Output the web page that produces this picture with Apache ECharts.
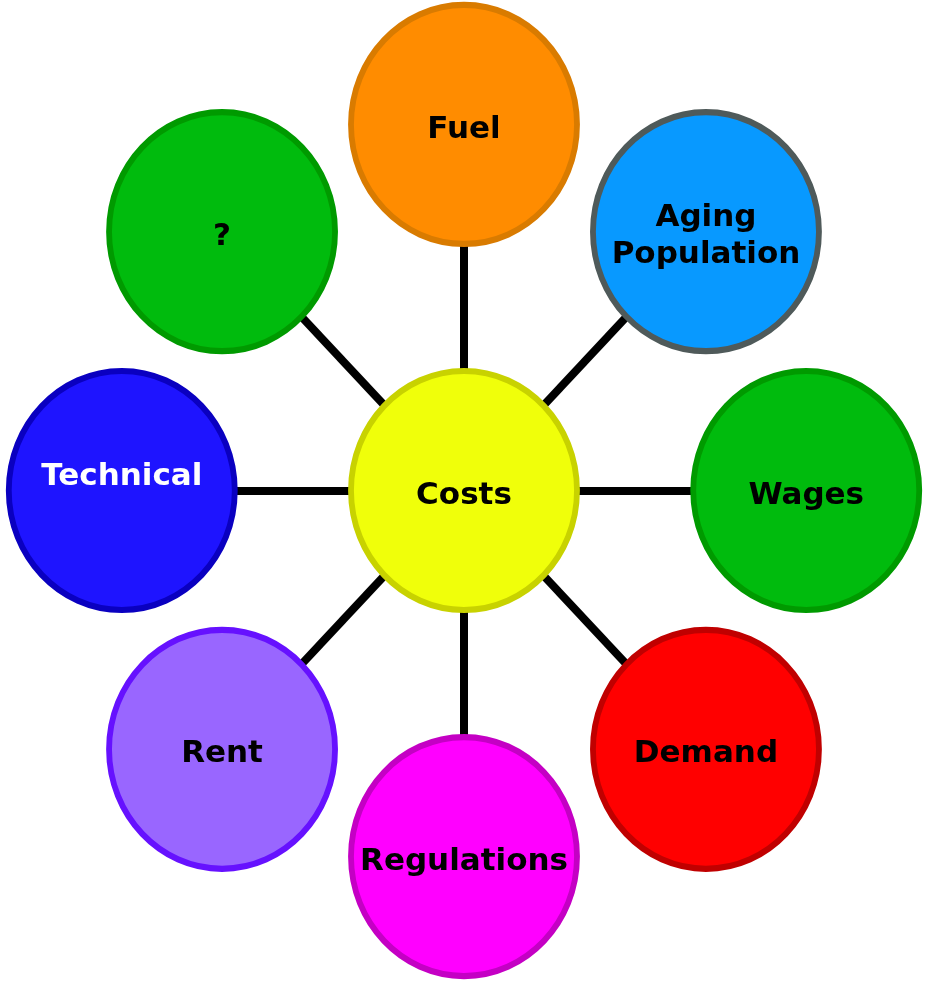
<!DOCTYPE html>
<html lang="en">
<head>
    <meta charset="UTF-8">
    <title>Costs</title>
    <script src="https://cdn.jsdelivr.net/npm/echarts@6/dist/echarts.min.js"></script>
    <style>
        html, body {
            margin: 0;
            height: 100%;
            background: #fff;
        }
    </style>
</head>
<body>
<div id="main" style="width: 926px;height: 984px"></div>
<script>
    // nodes: name, position on the unit circle, colours
    var names = ['Costs', 'Fuel', 'Aging\nPopulation', 'Wages', 'Demand', 'Regulations', 'Rent', 'Technical', '?'];
    var posX = [0, 0, 0.707, 1, 0.707, 0, -0.707, -1, -0.707];
    var posY = [0, 1, 0.707, 0, -0.707, -1, -0.707, 0, 0.707];
    var fills = ['#F0FF0A', '#FF8C00', '#0899FF', '#00BB0D', '#FF0000', '#FF00FF', '#9966FF', '#1E14FF', '#00BB0D'];
    var borders = ['#C8D200', '#D97B00', '#4F5A5A', '#009A00', '#C00000', '#C400C4', '#6611FF', '#0A00C0', '#009A00'];
    var textColors = ['#000', '#000', '#000', '#000', '#000', '#000', '#000', '#fff', '#000'];
    // every outer node is linked to the centre
    var links = ['Fuel', 'Aging\nPopulation', 'Wages', 'Demand', 'Regulations', 'Rent', 'Technical', '?'];

    var ellipse = 'path://M1,0 C1,0.552 0.552,1 0,1 C-0.552,1 -1,0.552 -1,0 C-1,-0.552 -0.552,-1 0,-1 C0.552,-1 1,-0.552 1,0 Z';

    var nodes = [];
    for (let i = 0; i < names.length; i++) {
        nodes.push({
            name: names[i],
            value: [posX[i], posY[i]],
            itemStyle: {color: fills[i], borderColor: borders[i], borderWidth: 6},
            label: {
                color: textColors[i],
                offset: names[i] === 'Technical' ? [0, -14] : [0, 5]
            }
        });
    }

    var edges = links.map(function (t) {
        return {source: 'Costs', target: t};
    });

    var myChart = echarts.init(document.getElementById('main'));
    var option = {
        animation: false,
        grid: {left: 2, right: 0, top: 0, bottom: 3},
        xAxis: {type: 'value', min: -1.35, max: 1.35, show: false},
        yAxis: {type: 'value', min: -1.34, max: 1.34, show: false},
        series: [{
            type: 'graph',
            coordinateSystem: 'cartesian2d',
            symbol: ellipse,
            symbolSize: [226, 239],
            label: {
                show: true,
                position: 'inside',
                fontFamily: 'DejaVu Sans',
                fontWeight: 'bold',
                fontSize: 31,
                lineHeight: 37
            },
            lineStyle: {color: '#000', width: 8, opacity: 1, curveness: 0},
            emphasis: {disabled: true},
            data: nodes,
            links: edges
        }]
    };
    myChart.setOption(option);
</script>
</body>
</html>
